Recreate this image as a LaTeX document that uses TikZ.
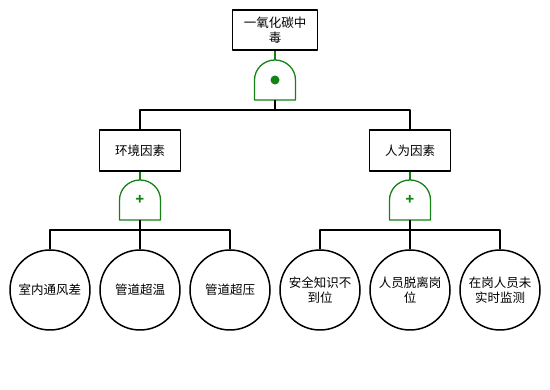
\documentclass[tikz,border=0pt]{standalone}
\usepackage{fontspec}
\setmainfont{Noto Sans CJK SC}
\definecolor{gategreen}{RGB}{20,130,20}
\tikzset{
  gate/.pic={
    \draw[gategreen, line width=1.3pt] (-20.5,0) -- (-20.5,20)
      arc[start angle=180, end angle=0, x radius=20.5, y radius=20] -- (20.5,0) -- cycle;
    \coordinate (-top) at (0,40);
    \coordinate (-mid) at (0,20);
    \coordinate (-bot) at (0,0);
  }
}
\begin{document}
\begin{tikzpicture}[x=1pt, y=1pt, line join=round,
  evbox/.style={draw, line width=1.5pt, minimum width=81pt, minimum height=41pt,
    align=center, font=\fontsize{12.5}{15}\selectfont},
  basic/.style={draw, circle, line width=1.5pt, minimum size=80pt, inner sep=0pt,
    align=center, font=\fontsize{12.5}{15}\selectfont},
  link/.style={line width=1.5pt},
  glink/.style={gategreen, line width=1.3pt},
  andmark/.style={circle, fill=gategreen, minimum size=9pt, inner sep=0pt},
  ormark/.style={gategreen, font=\bfseries\fontsize{14}{14}\selectfont, inner sep=0pt}]
  \useasboundingbox (0,0) rectangle (550,390);
  % top event
  \node[evbox, minimum width=85pt, minimum height=40pt] (top) at (275,360) {一氧化碳中\\毒};
  \pic (g0) at (275,290) {gate};
  \node[andmark] at (g0-mid) {};
  \draw[glink] (top.south) -- (g0-top);
  % intermediate events
  \node[evbox] (env) at (140,239.5) {环境因素};
  \node[evbox] (hum) at (410,239.5) {人为因素};
  \draw[link] (g0-bot) -- ++(0,-10) -| (env.north);
  \draw[link] (g0-bot) -- ++(0,-10) -| (hum.north);
  \pic (g1) at (140,170) {gate};
  \pic (g2) at (410,170) {gate};
  \node[ormark] at (g1-mid) {+};
  \node[ormark] at (g2-mid) {+};
  \draw[glink] (env.south) -- (g1-top);
  \draw[glink] (hum.south) -- (g2-top);
  % basic events
  \node[basic] (b1) at (50,100)  {室内通风差};
  \node[basic] (b2) at (140,100) {管道超温};
  \node[basic] (b3) at (230,100) {管道超压};
  \node[basic] (b4) at (320,100) {安全知识不\\到位};
  \node[basic] (b5) at (410,100) {人员脱离岗\\位};
  \node[basic] (b6) at (500,100) {在岗人员未\\实时监测};
  \foreach \b in {b1,b2,b3}
    \draw[link] (g1-bot) -- ++(0,-10) -| (\b.north);
  \foreach \b in {b4,b5,b6}
    \draw[link] (g2-bot) -- ++(0,-10) -| (\b.north);
\end{tikzpicture}
\end{document}
